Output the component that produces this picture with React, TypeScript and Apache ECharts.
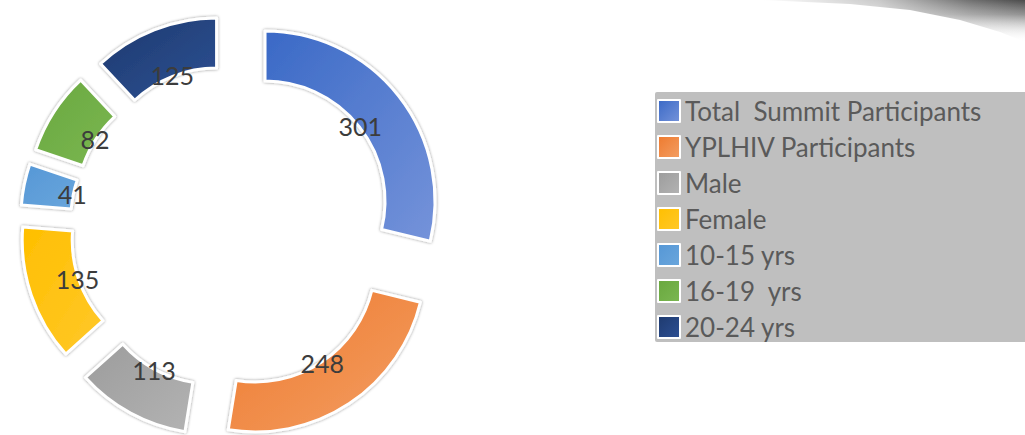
import React, { useEffect, useRef } from "react";
import * as echarts from "echarts";

const categories = [
  "Total  Summit Participants",
  "YPLHIV Participants",
  "Male",
  "Female",
  "10-15 yrs",
  "16-19  yrs",
  "20-24 yrs",
];
const values = [301, 248, 113, 135, 41, 82, 125];
const colorsTop = ["#3A69C6", "#EE7A2E", "#9C9C9C", "#FFBF00", "#5597D6", "#69A83E", "#1E3A6E"];
const colorsBottom = ["#7593DA", "#F39E63", "#B3B3B3", "#FFC82A", "#6AA6DC", "#7BB752", "#2D5094"];

function grad(i: number) {
  return new echarts.graphic.LinearGradient(0, 0, 1, 1, [
    { offset: 0, color: colorsTop[i] },
    { offset: 1, color: colorsBottom[i] },
  ]);
}

export default function App() {
  const ref = useRef<HTMLDivElement>(null);
  useEffect(() => {
    if (!ref.current) return;
    const chart = echarts.init(ref.current, undefined, { renderer: "svg" });
    const center = [232, 227];
    const mainData = values.map((v, i) => ({
      name: categories[i],
      value: v,
      selected: true,
      itemStyle: { color: grad(i) },
    }));
    const labelData = values.map((v, i) => ({ name: categories[i], value: v }));
    chart.setOption({
      animation: false,
      backgroundColor: "#ffffff",
      graphic: [
        {
          type: "polygon",
          z: 0,
          shape: {
            points: [
              [760, 0],
              [1025, 0],
              [1025, 42],
              [1000, 32],
              [960, 20],
              [910, 10],
              [850, 4],
            ],
          },
          style: {
            fill: new echarts.graphic.LinearGradient(0, 0, 0, 1, [
              { offset: 0, color: "rgba(75,75,75,1)" },
              { offset: 0.35, color: "rgba(130,130,130,0.85)" },
              { offset: 0.7, color: "rgba(210,210,210,0.5)" },
              { offset: 1, color: "rgba(255,255,255,0)" },
            ]),
          },
        },
        {
          type: "rect",
          z: 1,
          shape: { x: 760, y: 0, width: 265, height: 45 },
          style: {
            fill: new echarts.graphic.LinearGradient(0, 0, 1, 0, [
              { offset: 0, color: "rgba(255,255,255,1)" },
              { offset: 0.45, color: "rgba(255,255,255,0.7)" },
              { offset: 0.8, color: "rgba(255,255,255,0.2)" },
              { offset: 1, color: "rgba(255,255,255,0)" },
            ]),
          },
        },
        {
          type: "rect",
          z: 0,
          shape: { x: 655, y: 92, width: 380, height: 250, r: 2 },
          style: { fill: "#BFBFBF" },
        },
      ],
      legend: {
        orient: "vertical",
        left: 657,
        top: 98,
        padding: 0,
        itemWidth: 22,
        itemHeight: 22,
        itemGap: 10,
        icon: "rect",
        selectedMode: false,
        data: categories.map((c, i) => ({
          name: c,
          itemStyle: { color: grad(i), borderColor: "#ffffff", borderWidth: 2 },
        })),
        textStyle: {
          fontFamily: "Lato",
          fontSize: 26,
          lineHeight: 24,
          color: "#5a5a5a",
        },
      },
      series: [
        {
          type: "pie",
          z: 2,
          center,
          radius: [120, 170],
          startAngle: 90,
          clockwise: true,
          selectedMode: "multiple",
          selectedOffset: 42,
          silent: true,
          label: { show: false },
          labelLine: { show: false },
          itemStyle: {
            borderColor: "#ffffff",
            borderWidth: 3,
            shadowBlur: 3,
            shadowColor: "rgba(0,0,0,0.45)",
          },
          select: {
            itemStyle: {
              borderColor: "#ffffff",
              borderWidth: 3,
              shadowBlur: 3,
              shadowColor: "rgba(0,0,0,0.45)",
            },
            label: { show: false },
          },
          data: mainData,
        },
        {
          type: "pie",
          z: 5,
          center,
          radius: [120, 200],
          startAngle: 90,
          clockwise: true,
          silent: true,
          itemStyle: { color: "rgba(0,0,0,0)", borderWidth: 0 },
          label: {
            show: true,
            position: "inside",
            formatter: "{c}",
            fontFamily: "Lato",
            fontSize: 25,
            color: "#3c3c3c",
          },
          labelLine: { show: false },
          data: labelData,
        },
      ],
    });
    return () => chart.dispose();
  }, []);
  return (
    <div
      ref={ref}
      style={{ position: "fixed", left: 0, top: 0, width: 1025, height: 435 }}
    />
  );
}
